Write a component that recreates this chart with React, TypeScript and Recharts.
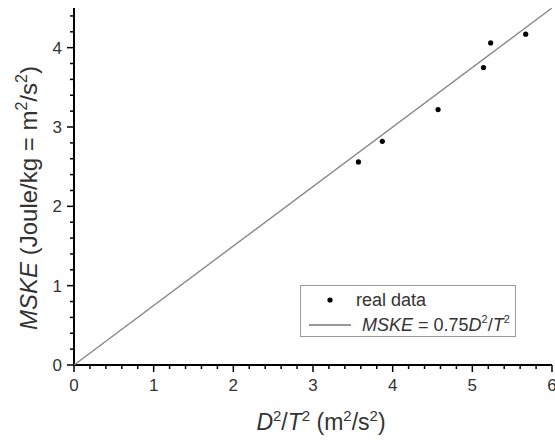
import { ScatterChart, Scatter, XAxis, YAxis, Label } from "recharts";

// measured points
const xData = [3.57, 3.87, 4.57, 5.14, 5.23, 5.67];
const yData = [2.56, 2.82, 3.22, 3.75, 4.06, 4.17];

// fitted line MSKE = 0.75 D^2/T^2, end points
const fitX = [0, 6];
const fitY = [0, 4.5];

const xTicks = [
  0, 0.2, 0.4, 0.6, 0.8, 1, 1.2, 1.4, 1.6, 1.8, 2, 2.2, 2.4, 2.6, 2.8, 3, 3.2, 3.4, 3.6, 3.8, 4, 4.2, 4.4, 4.6,
  4.8, 5, 5.2, 5.4, 5.6, 5.8, 6,
];
const yTicks = [
  0, 0.2, 0.4, 0.6, 0.8, 1, 1.2, 1.4, 1.6, 1.8, 2, 2.2, 2.4, 2.6, 2.8, 3, 3.2, 3.4, 3.6, 3.8, 4, 4.2, 4.4,
];

const points = xData.map((x, i) => ({ x, y: yData[i] }));
const fit = fitX.map((x, i) => ({ x, y: fitY[i] }));

const FONT = '"Liberation Sans", Arial, sans-serif';
const TEXT = "#333";

const isMajor = (v: number) => Math.abs(v - Math.round(v)) < 1e-6;

function XTick({ x, y, payload }: any) {
  const major = isMajor(payload.value);
  return (
    <g>
      <line x1={x} x2={x} y1={y} y2={y + (major ? 7 : 4)} stroke="#000" strokeWidth={1.5} />
      {major && (
        <text x={x} y={y + 26} textAnchor="middle" fontSize={17} fontFamily={FONT} fill={TEXT}>
          {Math.round(payload.value)}
        </text>
      )}
    </g>
  );
}

function YTick({ x, y, payload }: any) {
  const major = isMajor(payload.value);
  return (
    <g>
      <line x1={x} x2={x - (major ? 7 : 4)} y1={y} y2={y} stroke="#000" strokeWidth={1.5} />
      {major && (
        <text x={x - 12} y={y + 6} textAnchor="end" fontSize={17} fontFamily={FONT} fill={TEXT}>
          {Math.round(payload.value)}
        </text>
      )}
    </g>
  );
}

function XTitle({ viewBox }: any) {
  const cx = viewBox.x + viewBox.width / 2 + 8;
  return (
    <text x={cx} y={viewBox.y + 65} textAnchor="middle" fontSize={23} fontFamily={FONT} fill={TEXT}>
      <tspan fontStyle="italic">D</tspan>
      <tspan fontSize={15} dy={-9}>2</tspan>
      <tspan dy={9}>/</tspan>
      <tspan fontStyle="italic">T</tspan>
      <tspan fontSize={15} dy={-9}>2</tspan>
      <tspan dy={9}> (m</tspan>
      <tspan fontSize={15} dy={-9}>2</tspan>
      <tspan dy={9}>/s</tspan>
      <tspan fontSize={15} dy={-9}>2</tspan>
      <tspan dy={9}>)</tspan>
    </text>
  );
}

function YTitle() {
  const bx = 37;
  const cy = 198;
  return (
    <text
      x={bx}
      y={cy}
      transform={`rotate(-90, ${bx}, ${cy})`}
      textAnchor="middle"
      fontSize={24}
      fontFamily={FONT}
      fill={TEXT}
    >
      <tspan fontStyle="italic">MSKE</tspan>
      <tspan> (Joule/kg = m</tspan>
      <tspan fontSize={16} dy={-10}>2</tspan>
      <tspan dy={10}>/s</tspan>
      <tspan fontSize={16} dy={-10}>2</tspan>
      <tspan dy={10}>)</tspan>
    </text>
  );
}

function LegendBox() {
  return (
    <div
      style={{
        position: "absolute",
        left: 300,
        top: 285,
        width: 216,
        height: 52,
        border: "1px solid #999",
        boxSizing: "border-box",
        background: "#fff",
      }}
    >
      <svg width={214} height={50} style={{ display: "block" }}>
        <circle cx={29} cy={14} r={2.6} fill="#000" />
        <text x={55} y={20} fontSize={18} fontFamily={FONT} fill={TEXT}>
          real data
        </text>
        <line x1={8} x2={50} y1={39} y2={39} stroke="#777" strokeWidth={1.3} />
        <text x={61} y={45} fontSize={18} fontFamily={FONT} fill={TEXT}>
          <tspan fontStyle="italic">MSKE</tspan>
          <tspan> = 0.75</tspan>
          <tspan fontStyle="italic">D</tspan>
          <tspan fontSize={11} dy={-8}>2</tspan>
          <tspan dy={8}>/</tspan>
          <tspan fontStyle="italic">T</tspan>
          <tspan fontSize={11} dy={-8}>2</tspan>
        </text>
      </svg>
    </div>
  );
}

export default function App() {
  return (
    <div style={{ position: "absolute", left: 0, top: 0, width: 555, height: 441, background: "#fff" }}>
      <ScatterChart width={555} height={441} margin={{ top: 8, right: 3, bottom: 0, left: 0 }}>
        <XAxis
          type="number"
          dataKey="x"
          domain={[0, 6]}
          ticks={xTicks}
          interval={0}
          height={76}
          tickSize={0}
          tickMargin={0}
          tickLine={false}
          tick={<XTick />}
          axisLine={{ stroke: "#000", strokeWidth: 2 }}
          allowDataOverflow
        >
          <Label content={<XTitle />} />
        </XAxis>
        <YAxis
          type="number"
          dataKey="y"
          domain={[0, 4.5]}
          ticks={yTicks}
          interval={0}
          width={74}
          tickSize={0}
          tickMargin={0}
          tickLine={false}
          tick={<YTick />}
          axisLine={{ stroke: "#000", strokeWidth: 2 }}
          allowDataOverflow
        >
          <Label content={<YTitle />} />
        </YAxis>
        <Scatter
          data={fit}
          line={{ stroke: "#888", strokeWidth: 1.4 }}
          shape={() => <g />}
          isAnimationActive={false}
        />
        <Scatter
          data={points}
          shape={(p: any) => <circle cx={p.cx} cy={p.cy} r={2.6} fill="#000" />}
          isAnimationActive={false}
        />
      </ScatterChart>
      <LegendBox />
    </div>
  );
}
